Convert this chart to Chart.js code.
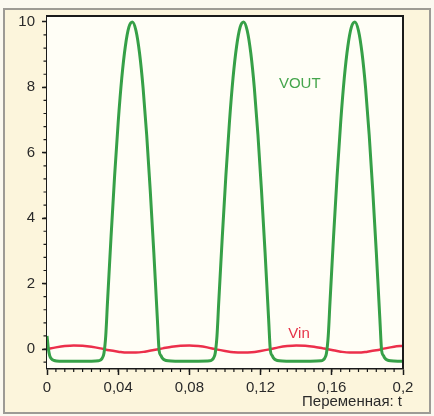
<!DOCTYPE html>
<html>
<head>
<meta charset="utf-8">
<script src="https://cdn.jsdelivr.net/npm/chart.js@4.4.1/dist/chart.umd.min.js"></script>
<style>
  html, body { margin: 0; padding: 0; background: #fbf9f0; }
  #frame {
    position: absolute; left: 3px; top: 8px; width: 424px; height: 402px;
    border: 2px solid #9d9b95; background: #fcf5dc;
  }
  #wrap { position: absolute; left: 0; top: 0; width: 434px; height: 416px; }
</style>
</head>
<body>
<div id="frame"></div>
<div id="wrap"><canvas id="chart" width="434" height="416"></canvas></div>
<script>
// Vin: small input sine
const vinT = [0, 0.005, 0.01, 0.015, 0.02, 0.025, 0.03, 0.035, 0.04, 0.045,
  0.05, 0.055, 0.06, 0.065, 0.07, 0.075, 0.08, 0.085, 0.09, 0.095,
  0.1, 0.105, 0.11, 0.115, 0.12, 0.125, 0.13, 0.135, 0.14, 0.145,
  0.15, 0.155, 0.16, 0.165, 0.17, 0.175, 0.18, 0.185, 0.19, 0.195, 0.2];
const vinV = [0, 0.05, 0.09, 0.11, 0.10, 0.07, 0.02, -0.04, -0.08, -0.11,
  -0.11, -0.08, -0.03, 0.02, 0.07, 0.10, 0.11, 0.09, 0.05, -0.01,
  -0.06, -0.10, -0.11, -0.10, -0.06, -0.01, 0.05, 0.09, 0.11, 0.10,
  0.07, 0.02, -0.03, -0.08, -0.11, -0.11, -0.08, -0.04, 0.02, 0.07, 0.10];

// VOUT: output pulses
const voutT = [0, 0.0008, 0.0015, 0.0025, 0.004, 0.007, 0.015, 0.025, 0.029,
  0.030, 0.031, 0.032, 0.033, 0.034, 0.035, 0.036, 0.038, 0.040, 0.042, 0.044,
  0.046, 0.048, 0.050, 0.052, 0.054, 0.056, 0.058, 0.060, 0.061, 0.062, 0.063,
  0.064, 0.065, 0.066, 0.068, 0.072, 0.085,
  0.0915, 0.0925, 0.0935, 0.0945, 0.0955, 0.0965, 0.0975, 0.0985, 0.1005, 0.1025,
  0.1045, 0.1065, 0.1085, 0.1105, 0.1125, 0.1145, 0.1165, 0.1185, 0.1205, 0.1225,
  0.1235, 0.1245, 0.1255, 0.1265, 0.1275, 0.1285, 0.1305, 0.1345, 0.148,
  0.154, 0.155, 0.156, 0.157, 0.158, 0.159, 0.160, 0.161, 0.163, 0.165,
  0.167, 0.169, 0.171, 0.173, 0.175, 0.177, 0.179, 0.181, 0.183, 0.185,
  0.186, 0.187, 0.188, 0.189, 0.190, 0.191, 0.193, 0.197, 0.2];
const voutV = [0.4, 0.0, -0.2, -0.3, -0.35, -0.37, -0.37, -0.37, -0.36,
  -0.34, -0.28, -0.13, 0.4, 1.45, 2.46, 3.45, 5.31, 6.94, 8.28, 9.25,
  9.84, 10.0, 9.73, 9.04, 7.97, 6.55, 4.85, 2.96, 1.95, 0.92, -0.05,
  -0.2, -0.29, -0.33, -0.36, -0.37, -0.37,
  -0.36, -0.34, -0.28, -0.13, 0.4, 1.45, 2.46, 3.45, 5.31, 6.94,
  8.28, 9.25, 9.84, 10.0, 9.73, 9.04, 7.97, 6.55, 4.85, 2.96,
  1.95, 0.92, -0.05, -0.2, -0.29, -0.33, -0.36, -0.37, -0.37,
  -0.36, -0.34, -0.28, -0.13, 0.4, 1.45, 2.46, 3.45, 5.31, 6.94,
  8.28, 9.25, 9.84, 10.0, 9.73, 9.04, 7.97, 6.55, 4.85, 2.96,
  1.95, 0.92, -0.05, -0.2, -0.29, -0.33, -0.36, -0.37, -0.37];

const xTicks = [0, 0.04, 0.08, 0.12, 0.16, 0.2];
const yTicks = [0, 2, 4, 6, 8, 10];

const FONT = '"Liberation Sans Narrow", "Liberation Sans", Arial, sans-serif';
const fmt = v => String(+v.toFixed(3)).replace('.', ',');

// plot background, frame, minor ticks and text labels
const decor = {
  id: 'decor',
  beforeDatasetsDraw(chart) {
    const a = chart.chartArea, ctx = chart.ctx;
    ctx.save();
    ctx.fillStyle = '#fffef6';
    ctx.fillRect(a.left, a.top, a.right - a.left, a.bottom - a.top);
    ctx.restore();
  },
  afterDraw(chart) {
    const a = chart.chartArea, ctx = chart.ctx;
    const xs = chart.scales.x, ys = chart.scales.y;
    ctx.save();
    ctx.strokeStyle = '#1a1a1a';
    ctx.lineWidth = 2;
    ctx.beginPath();
    ctx.moveTo(a.left, a.top); ctx.lineTo(a.right, a.top); ctx.lineTo(a.right, a.bottom);
    ctx.stroke();

    // minor ticks
    ctx.lineWidth = 1.2;
    ctx.beginPath();
    for (let k = 1; k < 40; k++) {
      const px = xs.getPixelForValue(k * 0.005);
      ctx.moveTo(px, a.bottom); ctx.lineTo(px, a.bottom + 4);
    }
    for (let k = -1; k < 25; k++) {
      const py = ys.getPixelForValue(k * 0.4);
      ctx.moveTo(a.left, py); ctx.lineTo(a.left - 3.5, py);
    }
    ctx.stroke();

    // text labels
    ctx.font = '15px ' + FONT;
    ctx.textAlign = 'center';
    ctx.textBaseline = 'middle';
    ctx.fillStyle = '#45a54c';
    ctx.fillText('VOUT', xs.getPixelForValue(0.142), ys.getPixelForValue(8.1));
    ctx.fillStyle = '#e63348';
    ctx.fillText('Vin', xs.getPixelForValue(0.1416), ys.getPixelForValue(0.46));

    ctx.fillStyle = '#2a2a2a';
    ctx.textAlign = 'right';
    ctx.fillText('Переменная: t', a.right - 1, 402);
    ctx.restore();
  }
};

new Chart(document.getElementById('chart'), {
  type: 'line',
  data: {
    datasets: [
      {
        label: 'VOUT',
        data: voutT.map((t, i) => ({ x: t, y: voutV[i] })),
        borderColor: '#36a047',
        borderWidth: 3,
        pointRadius: 0,
        cubicInterpolationMode: 'monotone'
      },
      {
        label: 'Vin',
        data: vinT.map((t, i) => ({ x: t, y: vinV[i] })),
        borderColor: '#ec2f4b',
        borderWidth: 2.5,
        pointRadius: 0,
        cubicInterpolationMode: 'monotone'
      }
    ]
  },
  options: {
    responsive: false,
    animation: false,
    layout: { padding: { left: 0, right: 31, top: 16, bottom: 0 } },
    plugins: { legend: { display: false }, tooltip: { enabled: false } },
    scales: {
      x: {
        type: 'linear',
        min: 0,
        max: 0.2,
        afterBuildTicks: s => { s.ticks = xTicks.map(v => ({ value: v })); },
        afterFit: s => { s.height = 48; },
        ticks: {
          callback: v => fmt(v),
          color: '#2a2a2a',
          font: { family: FONT, size: 15 },
          padding: 4,
          maxRotation: 0,
          autoSkip: false
        },
        grid: { drawOnChartArea: false, drawTicks: true, tickLength: 7, tickColor: '#1a1a1a', tickWidth: 1.5 },
        border: { color: '#1a1a1a', width: 2.5 }
      },
      y: {
        type: 'linear',
        min: -0.58,
        max: 10.18,
        afterBuildTicks: s => { s.ticks = yTicks.map(v => ({ value: v })); },
        afterFit: s => { s.width = 47; },
        ticks: {
          callback: v => fmt(v),
          color: '#2a2a2a',
          font: { family: FONT, size: 15 },
          padding: 7
        },
        grid: { drawOnChartArea: false, drawTicks: true, tickLength: 5, tickColor: '#1a1a1a', tickWidth: 1.5 },
        border: { color: '#1a1a1a', width: 2.5 }
      }
    }
  },
  plugins: [decor]
});
</script>
</body>
</html>
